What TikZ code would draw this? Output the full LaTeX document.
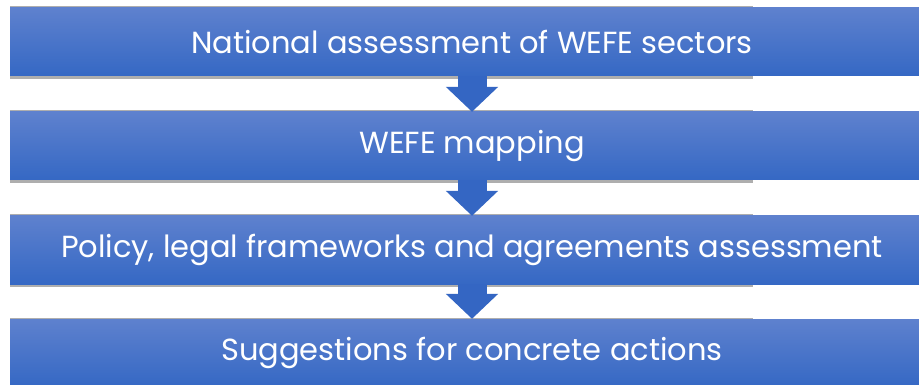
\documentclass[tikz,border=0pt]{standalone}
\usepackage{fontspec}
\setmainfont{Poppins}
\usetikzlibrary{arrows.meta}
\definecolor{bartop}{RGB}{94, 129, 206}
\definecolor{barbottom}{RGB}{53, 104, 196}
\definecolor{arrowblue}{RGB}{52, 102, 195}
\definecolor{shadowgray}{RGB}{120, 120, 120}

\begin{document}
\begin{tikzpicture}[x=1pt, y=-1pt,
    bar/.style={minimum width=924pt, minimum height=68pt, inner sep=0pt, top color=bartop, bottom color=barbottom, text=white, font=\fontsize{30.5}{34}\selectfont},
    flow/.style={draw=arrowblue, line width=29pt, -{Triangle[width=51pt, length=25pt]}}]
    \clip (0, 0) rectangle (919, 385);
    \fill[white] (0, 0) rectangle (919, 385);

    % Shadows
    \foreach \y in {8, 112, 216, 319} {
        \fill[shadowgray!60] (10, \y-1.5) rectangle (753, \y+71);
    }

    % Bars
    \node[bar] (national) at (472, 42) {National assessment of WEFE sectors};
    \node[bar] (mapping) at (472, 146) {WEFE mapping};
    \node[bar] (policy) at (472, 250) {Policy, legal frameworks and agreements assessment};
    \node[bar] (actions) at (472, 353) {Suggestions for concrete actions};

    % Arrows
    \foreach \a/\b in {national/mapping, mapping/policy, policy/actions} {
        \draw[flow] (\a.south) -- (\b.north);
    }
\end{tikzpicture}
\end{document}
